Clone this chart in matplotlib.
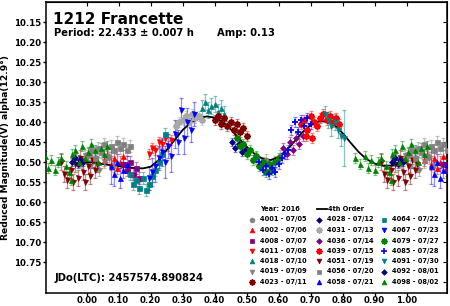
import matplotlib
matplotlib.use("Agg")
import matplotlib.pyplot as plt
import numpy as np

# ---------------- data ----------------
curve_ph = [0.000, 0.025, 0.050, 0.075, 0.100, 0.125, 0.150, 0.175, 0.200, 0.225,
            0.250, 0.275, 0.300, 0.325, 0.350, 0.375, 0.400, 0.425, 0.450, 0.475,
            0.500, 0.525, 0.550, 0.575, 0.600, 0.625, 0.650, 0.675, 0.700, 0.725,
            0.750, 0.775, 0.800, 0.825, 0.850, 0.875, 0.900, 0.925, 0.950, 0.975, 1.000]
curve_mag = [10.500, 10.502, 10.505, 10.508, 10.510, 10.513, 10.515, 10.516, 10.512, 10.495,
             10.470, 10.445, 10.420, 10.402, 10.391, 10.386, 10.389, 10.400, 10.418, 10.440,
             10.462, 10.480, 10.492, 10.495, 10.488, 10.470, 10.448, 10.425, 10.408, 10.399,
             10.398, 10.408, 10.428, 10.452, 10.475, 10.493, 10.504, 10.509, 10.509, 10.505, 10.500]

s4001_ph = [0.53, 0.545, 0.56, 0.575, 0.59, 0.605]
s4001_mag = [10.490, 10.505, 10.495, 10.510, 10.500, 10.485]
s4001_err = 0.015

s4002_ph = [0.055, 0.065, 0.075, 0.085, 0.095, 0.105, 0.115]
s4002_mag = [10.495, 10.480, 10.505, 10.490, 10.515, 10.500, 10.485]
s4002_err = 0.015

s4008_ph = [0.115, 0.125, 0.135, 0.145, 0.155, 0.165]
s4008_mag = [10.505, 10.520, 10.500, 10.530, 10.515, 10.540]
s4008_err = 0.015

s4011_ph = [0.195, 0.205, 0.215, 0.225, 0.235, 0.245, 0.255, 0.265]
s4011_mag = [10.480, 10.465, 10.470, 10.450, 10.455, 10.440, 10.460, 10.445]
s4011_err = 0.012

s4018_ph = [0.36, 0.37, 0.38, 0.39, 0.40, 0.41, 0.42, 0.43]
s4018_mag = [10.365, 10.350, 10.370, 10.360, 10.355, 10.375, 10.365, 10.380]
s4018_err = 0.02

s4019_ph = [0.985, 0.995, 0.010, 0.025, 0.040, 0.055, 0.070, 0.085]
s4019_mag = [10.500, 10.485, 10.510, 10.495, 10.520, 10.500, 10.490, 10.510]
s4019_err = 0.015

s4023_ph = [0.40, 0.41, 0.42, 0.43, 0.44, 0.45, 0.46, 0.47, 0.48, 0.49, 0.50]
s4023_mag = [10.395, 10.385, 10.405, 10.390, 10.410, 10.400, 10.420, 10.405, 10.425, 10.415, 10.435]
s4023_err = 0.012

s4028_ph = [0.455, 0.465, 0.475, 0.485, 0.495]
s4028_mag = [10.450, 10.465, 10.455, 10.475, 10.470]
s4028_err = 0.01

s4031_ph = [0.28, 0.29, 0.30, 0.31, 0.32, 0.33, 0.34, 0.35, 0.36]
s4031_mag = [10.410, 10.400, 10.395, 10.385, 10.400, 10.380, 10.390, 10.385, 10.395]
s4031_err = 0.012

s4036_ph = [0.615, 0.625, 0.635, 0.645, 0.655, 0.665, 0.675]
s4036_mag = [10.465, 10.480, 10.450, 10.470, 10.440, 10.455, 10.435]
s4036_err = 0.012

s4039_ph = [0.67, 0.68, 0.685, 0.69, 0.70, 0.705, 0.71, 0.72, 0.73, 0.74, 0.75, 0.76, 0.77, 0.78, 0.79]
s4039_mag = [10.405, 10.395, 10.435, 10.420, 10.385, 10.440, 10.400, 10.410, 10.390, 10.380,
             10.395, 10.385, 10.400, 10.390, 10.405]
s4039_err = 0.012

s4051_ph = [0.920, 0.930, 0.940, 0.950, 0.958, 0.965, 0.972, 0.980, 0.988, 0.995,
            0.003, 0.010, 0.018, 0.025, 0.033]
s4051_mag = [10.500, 10.530, 10.545, 10.520, 10.550, 10.505, 10.540, 10.490, 10.525, 10.550,
             10.510, 10.535, 10.495, 10.520, 10.505]
s4051_err = 0.02

s4056_ph = [0.005, 0.015, 0.025, 0.035, 0.045, 0.055, 0.065, 0.075, 0.085, 0.095,
            0.105, 0.115, 0.125, 0.135]
s4056_mag = [10.480, 10.470, 10.490, 10.465, 10.475, 10.455, 10.485, 10.460, 10.470, 10.450,
             10.465, 10.455, 10.470, 10.460]
s4056_err = 0.015

s4058_ph = [0.075, 0.085, 0.095, 0.105, 0.115, 0.125]
s4058_mag = [10.510, 10.530, 10.500, 10.540, 10.520, 10.505]
s4058_err = [0.045, 0.03, 0.02, 0.025, 0.02, 0.02]

s4064_ph = [0.135, 0.145, 0.155, 0.165, 0.175, 0.185, 0.195, 0.205, 0.215, 0.225, 0.235, 0.245]
s4064_mag = [10.530, 10.555, 10.545, 10.565, 10.540, 10.570, 10.555, 10.535, 10.520, 10.500,
             10.480, 10.430]
s4064_err = 0.015

s4067_ph = [0.195, 0.205, 0.215, 0.225, 0.235, 0.245, 0.255, 0.265, 0.275, 0.285,
            0.295, 0.305, 0.315, 0.325, 0.335]
s4067_mag = [10.540, 10.525, 10.510, 10.490, 10.475, 10.500, 10.460, 10.485, 10.430, 10.450,
             10.370, 10.440, 10.400, 10.420, 10.380]
s4067_err = [0.03, 0.035, 0.04, 0.03, 0.035, 0.04, 0.03, 0.04, 0.035, 0.03,
             0.03, 0.04, 0.035, 0.03, 0.03]

s4079_ph = [0.47, 0.48, 0.49, 0.50, 0.51, 0.52, 0.53, 0.54, 0.55, 0.56, 0.57, 0.58, 0.59, 0.60]
s4079_mag = [10.440, 10.460, 10.455, 10.480, 10.470, 10.495, 10.485, 10.510, 10.500, 10.525,
             10.505, 10.520, 10.500, 10.490]
s4079_err = 0.012

s4085_ph = [0.54, 0.55, 0.56, 0.57, 0.58, 0.59, 0.60, 0.61, 0.62, 0.63,
            0.64, 0.65, 0.66, 0.67, 0.68, 0.69, 0.70]
s4085_mag = [10.500, 10.520, 10.510, 10.530, 10.515, 10.525, 10.505, 10.490, 10.480, 10.470,
             10.420, 10.400, 10.425, 10.395, 10.410, 10.390, 10.405]
s4085_err = 0.012

s4091_ph = [0.745, 0.755, 0.765, 0.775, 0.785, 0.795, 0.805]
s4091_mag = [10.380, 10.395, 10.410, 10.400, 10.420, 10.435, 10.440]
s4091_err = [0.02, 0.02, 0.025, 0.02, 0.02, 0.025, 0.07]

s4092_ph = [0.955, 0.965, 0.972, 0.980, 0.988]
s4092_mag = [10.500, 10.490, 10.505, 10.495, 10.500]
s4092_err = 0.01

s4098_ph = [0.840, 0.855, 0.870, 0.880, 0.890, 0.900, 0.910, 0.920, 0.935, 0.945, 0.950,
            0.955, 0.965, 0.975, 0.985, 0.995, 0.005, 0.015, 0.025, 0.035, 0.045, 0.055, 0.065]
s4098_mag = [10.490, 10.505, 10.485, 10.515, 10.495, 10.520, 10.500, 10.490, 10.510, 10.525, 10.545,
             10.480, 10.470, 10.500, 10.460, 10.490, 10.475, 10.455, 10.470, 10.500, 10.465, 10.480, 10.460]
s4098_err = 0.012

session_labels = ["4001 - 07/05", "4002 - 07/06", "4008 - 07/07", "4011 - 07/08",
                  "4018 - 07/10", "4019 - 07/09", "4023 - 07/11",
                  "4028 - 07/12", "4031 - 07/13", "4036 - 07/14", "4039 - 07/15",
                  "4051 - 07/19", "4056 - 07/20", "4058 - 07/21",
                  "4064 - 07/22", "4067 - 07/23", "4079 - 07/27", "4085 - 07/28",
                  "4091 - 07/30", "4092 - 08/01", "4098 - 08/02"]

x_ticks = [0.0, 0.1, 0.2, 0.3, 0.4, 0.5, 0.6, 0.7, 0.8, 0.9, 1.0]
y_ticks = [10.15, 10.20, 10.25, 10.30, 10.35, 10.40, 10.45, 10.50, 10.55, 10.60,
           10.65, 10.70, 10.75]

# ---------------- styles ----------------
RED, DRED, GRAY, LGRAY = "#ff0000", "#800000", "#808080", "#a8a8a8"
PURP, TEAL, NAVY, BLUE, GREEN = "#800080", "#008080", "#000080", "#0000ff", "#008000"
AST = (8, 2, 0)

sessions = [
    (s4001_ph, s4001_mag, s4001_err, "o", GRAY),
    (s4002_ph, s4002_mag, s4002_err, "^", RED),
    (s4008_ph, s4008_mag, s4008_err, "s", PURP),
    (s4011_ph, s4011_mag, s4011_err, "v", RED),
    (s4018_ph, s4018_mag, s4018_err, "^", TEAL),
    (s4019_ph, s4019_mag, s4019_err, "v", GRAY),
    (s4023_ph, s4023_mag, s4023_err, AST, DRED),
    (s4028_ph, s4028_mag, s4028_err, "D", NAVY),
    (s4031_ph, s4031_mag, s4031_err, AST, LGRAY),
    (s4036_ph, s4036_mag, s4036_err, "D", PURP),
    (s4039_ph, s4039_mag, s4039_err, AST, RED),
    (s4051_ph, s4051_mag, s4051_err, "v", DRED),
    (s4056_ph, s4056_mag, s4056_err, "s", GRAY),
    (s4058_ph, s4058_mag, s4058_err, "^", BLUE),
    (s4064_ph, s4064_mag, s4064_err, "s", TEAL),
    (s4067_ph, s4067_mag, s4067_err, "v", BLUE),
    (s4079_ph, s4079_mag, s4079_err, AST, GREEN),
    (s4085_ph, s4085_mag, s4085_err, "+", BLUE),
    (s4091_ph, s4091_mag, s4091_err, "v", TEAL),
    (s4092_ph, s4092_mag, s4092_err, "D", NAVY),
    (s4098_ph, s4098_mag, s4098_err, "^", GREEN),
]


def msize(m):
    if m == "D":
        return 3.0
    if m == "+":
        return 4.5
    if m == AST:
        return 4.5
    return 3.6


FONT = "DejaVu Sans"
W, H = 450, 306
fig = plt.figure(figsize=(W / 100, H / 100), dpi=100)
ax = fig.add_axes([46 / W, 1 - 293 / H, (447 - 46) / W, (293 - 2) / H])

ax.plot(curve_ph, curve_mag, color="black", lw=1.3, zorder=2)

for i, (ph, mag, err, m, c) in enumerate(sessions):
    ph = np.asarray(ph)
    for shift in (-1, 0, 1):
        ax.errorbar(ph + shift, mag, yerr=err, fmt="none", ecolor=c, alpha=0.45,
                    elinewidth=0.9, capsize=1.6, capthick=0.9, zorder=1)
        ax.plot(ph + shift, mag, ls="none", marker=m, color=c, ms=msize(m),
                mew=1.3 if m in ("+", AST) else 0.5, zorder=3)

ax.set_xlim(-0.127, 1.126)
ax.set_ylim(10.8275, 10.10)
ax.set_xticks(x_ticks)
ax.set_xticklabels([f"{v:.2f}" for v in x_ticks])
ax.set_yticks(y_ticks)
ax.set_yticklabels([f"{v:.2f}" for v in y_ticks])
ax.tick_params(axis="both", which="both", direction="out", length=2.2, width=1,
               labelsize=6.2, pad=1.5)
ax.tick_params(axis="x", pad=0.3)
for lab in ax.get_xticklabels() + ax.get_yticklabels():
    lab.set_fontweight("bold")
    lab.set_family(FONT)
for sp in ax.spines.values():
    sp.set_linewidth(1.1)

# inward ticks on top and right
axt = ax.secondary_xaxis("top")
axt.set_xticks(x_ticks)
axt.tick_params(direction="in", length=3, labeltop=False)
axr = ax.secondary_yaxis("right")
axr.set_yticks(y_ticks + [10.80])
axr.tick_params(direction="in", length=3, labelright=False)

fig.text(6 / W, 1 - 148 / H, "Reduced Magnitude(V) alpha(12.9°)", rotation=90,
         ha="center", va="center", fontsize=6.6, fontweight="bold", family=FONT)

fig.text(53 / W, 1 - 24 / H, "1212 Francette", fontsize=11, fontweight="bold",
         family=FONT, va="baseline")
fig.text(54 / W, 1 - 36.5 / H, "Period: 22.433 ± 0.007 h", fontsize=7.2,
         fontweight="bold", family=FONT, va="baseline")
fig.text(217 / W, 1 - 36.5 / H, "Amp: 0.13", fontsize=7.2, fontweight="bold",
         family=FONT, va="baseline")
fig.text(55 / W, 1 - 281 / H, "JDo(LTC): 2457574.890824", fontsize=7.2,
         fontweight="bold", family=FONT, va="baseline")

# legend (manual)
LFS = 4.8
fig.text(260 / W, 1 - 209 / H, "Year: 2016", fontsize=LFS, fontweight="bold",
         family=FONT, va="center")
fig.add_artist(plt.Line2D([317 / W, 327 / W], [1 - 209 / H, 1 - 209 / H],
                          color="black", lw=1.3, transform=fig.transFigure))
fig.text(327.5 / W, 1 - 209 / H, "4th Order", fontsize=LFS, fontweight="bold",
         family=FONT, va="center")
col_mx = [252, 319, 384]
col_tx = [260, 327, 392]
row_y = [219.5, 230, 240.5, 251, 261, 271.5, 282]
for i, ((ph, mag, err, m, c), lab) in enumerate(zip(sessions, session_labels)):
    col, row = divmod(i, 7)
    y = 1 - row_y[row] / H
    fig.add_artist(plt.Line2D([col_mx[col] / W], [y], ls="none", marker=m, color=c,
                              ms=msize(m) * 0.95, mew=1.2 if m in ("+", AST) else 0.5,
                              transform=fig.transFigure))
    fig.text(col_tx[col] / W, y, lab, fontsize=LFS, fontweight="bold", family=FONT,
             va="center")

fig.savefig("out.png", dpi=100)
